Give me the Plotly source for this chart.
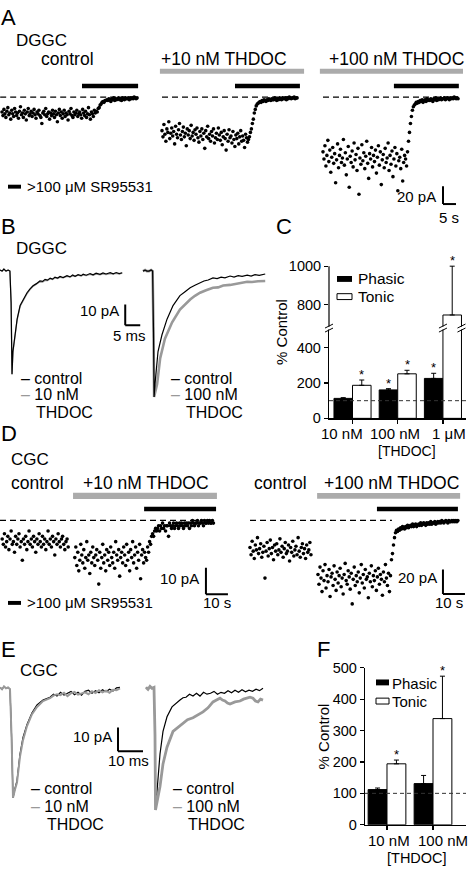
import numpy as np
import plotly.graph_objects as go

W, H = 468, 874
FONT = "Liberation Sans, Arial, Helvetica, sans-serif"
GRAY_BAR = "#ababab"
GRAY_TRACE = "#999999"

# ============================ DATA ============================
# ---- Panel A: DGGC holding current (pA, relative to SR95531 level), sampled over 52 s
A_duration_s = 52
A_control = [
    -17, -21, -14, -19, -23, -16, -12, -20, -18, -25,
    -15, -19, -22, -13, -17, -21, -18, -24, -16, -11,
    -20, -18, -23, -15, -19, -26, -17, -13, -21, -19,
    -16, -22, -18, -14, -20, -24, -17, -19, -15, -21,
    -23, -30, -18, -16, -20, -13, -22, -19, -17, -25,
    -18, -21, -15, -19, -23, -16, -20, -28, -18, -14,
    -21, -17, -24, -19, -15, -22, -18, -20, -26, -16,
    -19, -13, -21, -23, -17, -20, -18, -15, -22, -19,
    -17, -20, -24, -14, -18, -21, -16, -23, -19, -12,
    -20, -25, -17, -19, -22, -15,
    -18, -16, -17, -13, -12, -9, -8, -6, -5, -6, -4, -4,
    -3, -4, -2, -3, -5, -2, -3, -1, -4, -2, -3, -2, -1, -3, -2, -4,
    -1, -2, -3, -1, -2, -2, -1, -3, -1, -2, -1, -2, 0, -1, -2, -1]
A_thdoc10 = [
    -38, -45, -31, -42, -50, -36, -40, -28, -47, -41,
    -35, -44, -39, -53, -33, -42, -46, -37, -30, -43,
    -48, -39, -34, -45, -41, -55, -36, -43, -38, -47,
    -32, -44, -40, -49, -37, -42, -35, -46, -51, -39,
    -44, -36, -48, -41, -58, -38, -45, -33, -47, -42,
    -50, -39, -44, -36, -52, -46, -41, -48, -35, -43,
    -49, -40, -54, -45, -38, -47, -60, -42, -50, -37,
    -46, -44, -52, -39, -48, -56, -43, -47, -41, -53,
    -45, -38, -50, -44, -49, -57, -42, -46, -51,
    -48, -45, -40, -36, -30, -25, -18, -14, -10, -8,
    -7, -6, -5, -6, -4, -5, -3, -4, -5, -3, -4, -2, -3, -4, -2, -3, -3, -1, -2, -4,
    -2, -3, -1, -2, -3, -1, -2, -2, -1, -3, -1, -2, 0, -1, -2, -1, -1, 0, -2, -1, -1]
A_thdoc100 = [
    -62, -70, -55, -78, -66, -49, -73, -60, -85, -68,
    -57, -75, -64, -97, -71, -53, -80, -66, -59, -74,
    -69, -48, -77, -63, -88, -70, -56, -102, -67, -74,
    -61, -79, -52, -71, -65, -83, -58, -110, -69, -76,
    -54, -72, -63, -81, -67, -50, -75, -92, -64, -70,
    -57, -79, -66, -73, -60, -86, -68, -55, -77, -62,
    -99, -71, -65, -80, -58, -74, -69, -52, -83, -66,
    -76, -61, -90, -70, -57, -78, -64, -106, -72, -68,
    -81, -59, -95, -74, -66,
    -70, -78, -62, -50, -40, -30, -22, -15, -11, -9, -8, -6,
    -7, -5, -6, -4, -5, -3, -6, -4, -3, -5, -2, -4, -3, -4, -2, -3, -5, -2, -3, -1,
    -4, -2, -3, -2, -1, -3, -2, -2, -1, -3, -2, -1, -2, -3, -1, -2, -1, -2, 0, -1,
    -2, -1, -2]

# ---- Panel D: CGC holding current (pA), time windows in s
D1_control_t = (1, 31)
D1_control = [
    -7, -9, -5, -10, -8, -6, -11, -7, -4, -9,
    -8, -12, -6, -9, -7, -5, -10, -8, -15, -7,
    -9, -6, -11, -8, -4, -9, -7, -10, -6, -8,
    -12, -7, -9, -5, -8, -10, -6, -9, -7, -11,
    -8, -4, -9, -7, -10, -6, -8, -13, -7, -9,
    -5, -8, -10, -7, -6, -9, -11, -8, -7, -10]
D1_thdoc_t = (34, 97)
D1_thdoc10 = [
    -14, -10, -17, -12, -19, -15, -9, -13, -16, -11,
    -18, -14, -8, -15, -13, -20, -12, -16, -10, -14,
    -17, -13, -11, -15, -24, -12, -18, -14, -9, -16,
    -13, -19, -11, -15, -12, -17, -10, -14, -16, -12,
    -18, -8, -13, -15, -11, -21, -14, -12, -16, -10,
    -13, -17, -9, -15, -12, -19, -11, -14, -8, -16,
    -13, -10, -18, -12, -15, -9, -22, -13, -11, -16,
    -12, -14,
    -15, -10, -12, -8, -9, -6, -5, -6, -4, -3, -4,
    -3, -2, -4, -2, -3, -1, -3, -2, -4, -2,
    -2, -6, -1, -2, -3, -2, -1, -3, -2, -1,
    -2, -3, -1, -2, -1, -2, -3, -1, -2, -1,
    -2, -1, -3, -1, -2, 0, -1, -2, -1, -1,
    0, -2, -1, -1, 0, -1, -2, 0, -1, -1,
    0, -1, 0, -1, -1, 0, -1]
D2_control_t = (0, 27.7)
D2_control = [
    -22, -28, -17, -25, -31, -20, -24, -14, -27, -23,
    -19, -30, -26, -21, -47, -25, -18, -29, -23, -16,
    -27, -22, -32, -20, -25, -19, -28, -24, -15, -26,
    -21, -30, -23, -18, -27, -25, -20, -33, -22, -26,
    -17, -29, -24, -21, -28, -14, -25, -30, -22, -19,
    -27, -23, -31, -20, -26, -24, -18, -28]
D2_thdoc_t = (30.9, 94.5)
D2_thdoc100 = [
    -44, -52, -38, -47, -58, -41, -49, -36, -55, -45,
    -50, -40, -62, -46, -43, -53, -37, -48, -57, -42,
    -51, -45, -39, -54, -47, -60, -44, -35, -49, -52,
    -41, -46, -56, -43, -68, -48, -38, -53, -45, -50,
    -42, -59, -47, -36, -51, -44, -55, -40, -48, -46,
    -63, -43, -50, -37, -54, -45, -49, -41, -57, -46,
    -39, -52, -44, -48, -61, -42, -50, -36, -47, -53,
    -43, -58, -45,
    -32, -27, -20, -14, -10, -8,
    -9, -7, -8, -6, -7, -5, -6, -7, -5, -6,
    -4, -6, -5, -4, -5, -3, -5, -4, -3, -5,
    -4, -3, -4, -2, -4, -3, -2, -3, -4, -2,
    -3, -2, -3, -1, -3, -2, -2, -1, -3, -2,
    -1, -2, -1, -2, 0, -1, -2, -1, 0, -1,
    -2, 0, -1, -1, 0, -1, 0, -1, 0, -1,
    0]

# ---- Panel B: DGGC averaged mIPSCs (time ms, current pA)
B1_t = [0, 0.7, 1.3, 2.0, 2.7, 3.3, 3.7, 3.8, 4.0, 4.3, 5.0, 5.7, 6.7, 7.7, 9.0, 10.0, 11.0, 12.0,
        13.3, 14.2, 15.0, 15.8, 16.7, 17.5, 18.3, 19.2, 20.0, 21.0, 22.3, 23.3, 24.2, 25.0, 26.0,
        27.0, 27.7, 28.7, 30.0, 31.0, 32.0, 33.3, 34.3, 35.3, 36.7, 37.7, 38.7, 39.7, 40.7]
B1_control = [0.5, 0, 1.0, 0, 0.5, 0, -15.2, -36.7, -50.0, -39.0, -29.5, -23.3, -16.7, -13.8, -10.5, -8.6, -7.1, -6.2,
              -4.8, -5.0, -4.0, -4.4, -3.4, -3.9, -2.9, -3.4, -2.6, -3.1, -2.2, -2.8, -1.9, -2.5, -1.7,
              -2.2, -1.5, -2.0, -1.2, -1.8, -1.0, -1.6, -0.9, -1.4, -0.8, -1.3, -0.7, -1.2, -0.8]
B1_thdoc10 = [0.5, 0, 1.0, 0, 0.5, 0, -15.2, -36.7, -50.0, -39.5, -30.0, -23.8, -17.1, -14.3, -11.0, -9.0, -7.4, -6.5,
              -5.2, -5.3, -4.5, -4.6, -3.8, -4.1, -3.3, -3.6, -3.0, -3.3, -2.6, -2.9, -2.3, -2.6, -2.0,
              -2.4, -1.9, -2.2, -1.6, -2.0, -1.5, -1.8, -1.3, -1.7, -1.2, -1.5, -1.1, -1.4, -1.0]
B2_control_t = [0, 0.7, 1.3, 2.0, 2.7, 3.2, 3.5, 3.7, 4.0, 5.0, 6.3, 8.0, 10.0, 12.3, 14.0, 15.7, 17.3, 19.0,
                20.3, 21.7, 23.3, 24.7, 26.0, 27.3, 29.0, 30.3, 31.7, 33.0, 34.7, 36.0, 37.3, 38.7, 40.7]
B2_control = [0, 0.5, 0, 0, 0.5, 0, -29.5, -61.0, -54.7, -39.0, -31.0, -23.3, -16.7, -11.9, -10.0, -8.1, -6.9, -5.7,
              -4.8, -4.3, -3.3, -3.6, -2.9, -3.3, -2.4, -2.9, -2.2, -2.6, -2.0, -2.4, -1.7, -2.1, -1.4]
B2_thdoc_t = [0, 0.7, 1.3, 2.0, 2.7, 3.2, 3.5, 3.7, 4.7, 5.7, 7.3, 9.7, 12.3, 14.0, 15.7, 17.3, 19.0, 21.0,
              23.3, 25.0, 26.7, 29.0, 30.7, 32.3, 34.7, 36.3, 38.3, 40.7]
B2_thdoc100 = [0, 0.5, 0, 0, 0.5, 0, -29.5, -61.0, -54.7, -42.4, -32.8, -24.8, -18.6, -16.0, -13.8, -12.0, -10.5, -9.3,
               -8.1, -7.9, -7.0, -6.7, -6.2, -5.9, -5.2, -5.3, -4.9, -4.8]

# ---- Panel E: CGC averaged mIPSCs (time ms, current pA)
E1_t = [0, 0.8, 1.6, 2.4, 3.2, 4.0, 4.6, 5.2, 6.0, 6.8, 8.0, 9.2, 10.8, 12.8, 14.8, 17.2,
        20.0, 21.4, 22.8, 24.2, 25.6, 27.0, 28.4, 29.8, 31.2, 32.6, 34.0, 35.4, 36.8, 38.2, 39.6,
        41.0, 42.4, 43.8, 45.2, 46.6, 48.0]
E1_control = [0.4, -0.4, 0.8, 0, 0.4, -0.4, -19.6, -46.5, -42.5, -39.2, -27.9, -20.9, -15.4, -10.4, -7.1, -5.0,
              -3.8, -2.5, -3.3, -1.7, -2.9, -2.1, -1.3, -2.7, -1.7, -2.9, -1.3, -0.8, -2.1, -1.0, -1.9,
              -0.6, -1.5, -0.4, -1.2, 0.2, 0.4]
E1_thdoc10 = [0.4, -0.4, 0.8, 0, 0.4, -0.4, -19.6, -46.5, -43.0, -40.0, -29.0, -22.0, -16.0, -11.0, -7.9, -5.4,
              -4.2, -3.1, -2.5, -2.9, -1.9, -3.3, -2.1, -1.5, -2.7, -2.3, -1.7, -2.5, -1.2, -2.0, -0.8,
              -1.7, -1.0, -1.9, -0.6, -0.8, 0]
E2_control_t = [0, 0.8, 1.6, 2.4, 3.2, 3.6, 3.8, 4.8, 5.6, 6.8, 8.4, 10.4, 12.0, 13.6, 14.8, 16.0, 17.4, 18.8,
                20.2, 21.6, 23.0, 24.4, 25.8, 27.2, 28.6, 30.0, 31.4, 32.8, 34.2, 35.6, 37.0, 38.4, 39.8,
                41.2, 42.6, 44.0, 45.4, 46.8]
E2_control = [0.4, -0.4, 0.8, 0, 0.4, -20.0, -51.7, -39.2, -27.9, -18.3, -12.1, -7.9, -6.3, -5.0, -4.0, -3.8, -2.5, -3.3,
              -2.1, -3.3, -1.7, -2.5, -2.1, -1.3, -2.5, -1.7, -2.1, -1.0, -1.9, -0.8, -1.7, -0.6, -1.5,
              -0.8, -1.3, -0.4, -1.0, 0]
E2_thdoc_t = [0, 0.8, 1.6, 2.4, 3.2, 3.6, 3.8, 5.6, 6.8, 8.4, 10.8, 12.6, 14.4, 16.6, 18.8, 20.8, 22.8, 24.8,
              26.8, 28.2, 29.6, 30.6, 31.6, 32.6, 33.6, 35.6, 37.6, 39.0, 40.4, 41.6, 42.8, 43.8, 44.8, 45.8, 46.8]
E2_thdoc100 = [0.4, -0.4, 0.8, 0, 0.4, -20.0, -51.7, -41.7, -32.1, -25.0, -18.3, -16.7, -15.4, -13.3, -12.5, -11.3, -10.0, -8.3,
               -5.8, -5.0, -4.2, -5.0, -5.4, -6.3, -6.7, -5.8, -5.4, -4.6, -4.2, -3.8, -4.2, -5.4, -5.8, -4.6, -5.0]

# ---- Panel C: DGGC, % control
C_conc = ["10 nM", "100 nM", "1 \u03bcM"]
C_phasic = [113, 161, 226]
C_phasic_err = [4, 7, 29]
C_tonic = [187, 252, 745]
C_tonic_err = [30, 20, 255]
C_phasic_sig = [False, True, True]
C_tonic_sig = [True, True, True]
C_yticks_low = [0, 200, 400]
C_yticks_high = [800, 1000]

# ---- Panel F: CGC, % control
F_conc = ["10 nM", "100 nM"]
F_phasic = [112, 131]
F_phasic_err = [5, 26]
F_tonic = [194, 338]
F_tonic_err = [12, 135]
F_phasic_sig = [False, False]
F_tonic_sig = [True, True]
F_yticks = [0, 100, 200, 300, 400, 500]

# ============================ FIGURE ============================
fig = go.Figure()


def dots(x, y, xa, ya, size=3.6):
    fig.add_trace(go.Scatter(x=x, y=y, mode="markers",
                             marker=dict(size=size, color="black", line=dict(width=0)),
                             xaxis=xa, yaxis=ya, showlegend=False, hoverinfo="skip"))


def curve(x, y, xa, ya, color, width):
    fig.add_trace(go.Scatter(x=x, y=y, mode="lines", line=dict(color=color, width=width),
                             xaxis=xa, yaxis=ya, showlegend=False, hoverinfo="skip"))


# A
dots(np.linspace(0, A_duration_s, len(A_control)), A_control, "x", "y")
dots(np.linspace(0, A_duration_s, len(A_thdoc10)), A_thdoc10, "x2", "y")
dots(np.linspace(0, A_duration_s, len(A_thdoc100)), A_thdoc100, "x3", "y")
# D
dots(np.linspace(*D1_control_t, len(D1_control)), D1_control, "x8", "y8")
dots(np.linspace(*D1_thdoc_t, len(D1_thdoc10)), D1_thdoc10, "x8", "y8")
dots(np.linspace(*D2_control_t, len(D2_control)), D2_control, "x9", "y9")
dots(np.linspace(*D2_thdoc_t, len(D2_thdoc100)), D2_thdoc100, "x9", "y9")
# B
curve(B1_t, B1_thdoc10, "x4", "y4", GRAY_TRACE, 1.3)
curve(B1_t, B1_control, "x4", "y4", "black", 1.2)
curve(B2_thdoc_t, B2_thdoc100, "x5", "y4", GRAY_TRACE, 2.6)
curve(B2_control_t, B2_control, "x5", "y4", "black", 1.2)
# E
curve(E1_t, E1_control, "x10", "y10", "black", 1.2)
curve(E1_t, E1_thdoc10, "x10", "y10", GRAY_TRACE, 2.0)
curve(E2_control_t, E2_control, "x11", "y10", "black", 1.2)
curve(E2_thdoc_t, E2_thdoc100, "x11", "y10", GRAY_TRACE, 2.8)

BW = 0.41


def bars(cats, phasic, perr, tonic, terr, xa, ya):
    z = [0] * len(cats)
    eb = dict(type="data", symmetric=False, arrayminus=z, color="black", thickness=1, width=2.5)
    fig.add_trace(go.Bar(x=cats, y=phasic, width=BW, offset=-BW,
                         marker=dict(color="black", line=dict(color="black", width=1)),
                         error_y=dict(eb, array=perr), xaxis=xa, yaxis=ya, showlegend=False, hoverinfo="skip"))
    fig.add_trace(go.Bar(x=cats, y=tonic, width=BW, offset=0,
                         marker=dict(color="white", line=dict(color="black", width=1)),
                         error_y=dict(eb, array=terr), xaxis=xa, yaxis=ya, showlegend=False, hoverinfo="skip"))


bars(C_conc, C_phasic, C_phasic_err, C_tonic, C_tonic_err, "x6", "y6")
bars(C_conc, C_phasic, C_phasic_err, C_tonic, C_tonic_err, "x6", "y7")
bars(F_conc, F_phasic, F_phasic_err, F_tonic, F_tonic_err, "x12", "y12")


# ---- axes (pixel layout -> domains/ranges)
def xax(p0, p1, origin, per_px, anchor):
    return dict(domain=[p0 / W, p1 / W], range=[(p0 - origin) * per_px, (p1 - origin) * per_px],
                visible=False, anchor=anchor, fixedrange=True)


def yax(p0, p1, origin, per_px, anchor):
    return dict(domain=[1 - p1 / H, 1 - p0 / H], range=[(origin - p1) * per_px, (origin - p0) * per_px],
                visible=False, anchor=anchor, fixedrange=True)


AX = dict(showline=True, linecolor="black", linewidth=1.2, ticks="outside", ticklen=4, tickwidth=1.2,
          tickcolor="black", showgrid=False, zeroline=False, fixedrange=True,
          tickfont=dict(size=14.5, family=FONT, color="black"))

layout_axes = dict(
    xaxis=xax(0, 145, 2, 0.385, "y"),
    xaxis2=xax(155, 310, 162, 0.385, "y"),
    xaxis3=xax(315, 468, 323, 0.385, "y"),
    yaxis=yax(55, 220, 90.7, 1.11, "x"),
    xaxis4=xax(0, 141, 0, 0.333, "y4"),
    xaxis5=xax(141, 275, 143, 0.333, "y4"),
    yaxis4=yax(255, 425, 268, 0.476, "x4"),
    xaxis6=dict(AX, domain=[329 / W, 466 / W], range=[-0.52, 2.51], type="category", anchor="y6",
                showticklabels=False),
    yaxis6=dict(AX, domain=[1 - 418 / H, 1 - 325 / H], range=[0, 516.7], tickvals=C_yticks_low, anchor="x6"),
    yaxis7=dict(AX, domain=[1 - 325 / H, 1 - 258 / H], range=[682, 1025.6], tickvals=C_yticks_high,
                anchor="x6", showline=False),
    xaxis8=xax(0, 240, 0, 0.4545, "y8"),
    yaxis8=yax(488, 625, 522, 0.37, "x8"),
    xaxis9=xax(245, 468, 250, 0.4545, "y9"),
    yaxis9=yax(488, 625, 522, 0.8, "x9"),
    xaxis10=xax(0, 145, 0, 0.4, "y10"),
    xaxis11=xax(145, 275, 146, 0.4, "y10"),
    yaxis10=yax(670, 845, 693, 0.417, "x10"),
    xaxis12=dict(AX, domain=[365 / W, 466 / W], range=[-0.478, 1.717], type="category", anchor="y12",
                 showticklabels=False),
    yaxis12=dict(AX, domain=[1 - 832 / H, 1 - 672 / H], range=[0, 500], tickvals=F_yticks, anchor="x12"),
)

shapes = []


def rect(xref, yref, x0, x1, y0, y1, fill, lw=0, lc="black"):
    shapes.append(dict(type="rect", xref=xref, yref=yref, x0=x0, x1=x1, y0=y0, y1=y1,
                       fillcolor=fill, line=dict(width=lw, color=lc), layer="above"))


def seg(xref, yref, x0, x1, y0, y1, w=1.3, dash="solid", color="black"):
    shapes.append(dict(type="line", xref=xref, yref=yref, x0=x0, x1=x1, y0=y0, y1=y1,
                       line=dict(width=w, color=color, dash=dash), layer="above"))


def scalebar(xref, yref, t, i, dt, di):
    seg(xref, yref, t, t, i, i - di, w=2)
    seg(xref, yref, t, t + dt, i - di, i - di, w=2)


# A decorations: THDOC (gray) and SR95531 (black) applications, baseline at SR level
for xr, (t0, t1) in {"x2": (-0.8, 54.7), "x3": (-1.2, 53.9)}.items():
    rect(xr, "y", t0, t1, 26.3, 31.9, GRAY_BAR)
for xr, (t0, t1) in {"x": (30.8, 52.4), "x2": (28.1, 53.1), "x3": (27.3, 52.3)}.items():
    rect(xr, "y", t0, t1, 9.9, 15.0, "black")
for xr, (t0, t1) in {"x": (-0.7, 52), "x2": (0, 50.4), "x3": (0, 52)}.items():
    seg(xr, "y", t0, t1, 0, 0, w=1.3, dash="6px,4px")
scalebar("x3", "y", 46.2, -101, 5, 20)

# B
scalebar("x4", "y4", 41.7, -16.2, 5, 10)
# E
scalebar("x10", "y10", 47.2, -16.7, 10, 10)

# D decorations
rect("x8", "y8", 33.2, 98.6, 8.1, 10.4, GRAY_BAR)
rect("x8", "y8", 65.5, 98.2, 3.5, 5.2, "black")
seg("x8", "y8", 0, 96.8, 0, 0, w=1.3, dash="6px,4px")
scalebar("x8", "y8", 93.6, -17.8, 10, 10)
rect("x9", "y9", 30.5, 95.5, 17.6, 22.4, GRAY_BAR)
rect("x9", "y9", 57.7, 94.5, 7.4, 11.2, "black")
seg("x9", "y9", 0, 64.5, 0, 0, w=1.3, dash="6px,4px")
scalebar("x9", "y9", 87.7, -40, 10, 20)

# 100% reference lines
shapes.append(dict(type="line", xref="x6 domain", yref="y6", x0=0, x1=1, y0=100, y1=100,
                   line=dict(width=1, color="#333333", dash="4px,3px"), layer="above"))
shapes.append(dict(type="line", xref="x12 domain", yref="y12", x0=0, x1=1, y0=100, y1=100,
                   line=dict(width=1, color="#333333", dash="4px,3px"), layer="above"))
# upper segment axis line of C
shapes.append(dict(type="line", xref="paper", yref="y7", x0=329 / W, x1=329 / W, y0=682, y1=1000,
                   line=dict(width=1.2, color="black"), layer="above"))


# axis break marks
def brk(xref, xanchor):
    yan = 1 - 325 / H
    shapes.append(dict(type="rect", xref=xref, xsizemode="pixel", xanchor=xanchor, x0=-2.5, x1=2.5,
                       yref="paper", ysizemode="pixel", yanchor=yan, y0=-2.5, y1=0.5,
                       fillcolor="white", line=dict(width=0), layer="above"))
    for off in (-4, 0):
        shapes.append(dict(type="line", xref=xref, xsizemode="pixel", xanchor=xanchor, x0=-4, x1=4,
                           yref="paper", ysizemode="pixel", yanchor=yan, y0=off - 1, y1=off + 3,
                           line=dict(width=1, color="black"), layer="above"))


brk("paper", 329 / W)
brk("x6", 2.0)
brk("x6", 2.0 + BW)


# legend keys and SR keys (paper pixels)
def prect(x0, y0, x1, y1, fill, lw=0):
    shapes.append(dict(type="rect", xref="paper", yref="paper", x0=x0 / W, x1=x1 / W,
                       y0=1 - y1 / H, y1=1 - y0 / H, fillcolor=fill,
                       line=dict(width=lw, color="black"), layer="above"))


prect(337, 273, 352, 279, "black")
prect(337, 291, 352, 297, "white", 1)
prect(376, 684, 389, 690, "black")
prect(376, 703, 389, 709, "white", 1)
prect(8, 180, 21, 184, "black")
prect(8, 604, 21, 608, "black")

# ---- text
ann = []


def txt(s, x, y, size=16, anchor="left", angle=0):
    ann.append(dict(text=s, x=x / W, y=1 - y / H, xref="paper", yref="paper", xanchor=anchor,
                    yanchor="middle", showarrow=False, textangle=angle,
                    font=dict(size=size, family=FONT, color="black")))


K = "<span style='color:black'>\u2013</span>"
G = "<span style='color:#999999'>\u2013</span>"
LS = 17.5
txt("A", -1, 10, 22)
txt("DGGC", 14, 33, 17)
txt("control", 39, 52, LS)
txt("+10 nM THDOC", 159, 52, LS)
txt("+100 nM THDOC", 327, 52, LS)
txt(">100 \u03bcM SR95531", 25, 182, 15)
txt("20 pA", 438, 192, 15, "right")
txt("5 s", 449, 213, 15, "center")
txt("B", -1, 223, 22)
txt("DGGC", 14, 245, 17)
txt("C", 274, 223, 22)
txt("10 pA", 121, 308, 15, "right")
txt("5 ms", 129, 334, 15, "center")
txt(K + " control", 19, 377, 16)
txt(G + " 10 nM", 19, 394, 16)
txt("THDOC", 34, 412, 16)
txt(K + " control", 169, 377, 16)
txt(G + " 100 nM", 169, 394, 16)
txt("THDOC", 184, 412, 16)
txt("% Control", 282, 330, 15, "center", -90)
# C category labels
for lab, cx in zip(C_conc, [342, 395, 449]):
    txt(lab, cx, 433, 15, "center")
txt("[THDOC]", 407, 451, 14, "center")
txt("Phasic", 356, 276, 15.5)
txt("Tonic", 356, 294, 15.5)
txt("D", -1, 433, 22)
txt("CGC", 9, 460, 17)
txt("control", 9, 484, LS)
txt("+10 nM THDOC", 81, 484, LS)
txt("control", 252, 484, LS)
txt("+100 nM THDOC", 322, 484, LS)
txt("10 pA", 201, 581, 15, "right")
txt("10 s", 217, 606, 15, "center")
txt("20 pA", 439, 580, 15, "right")
txt("10 s", 449, 606, 15, "center")
txt(">100 \u03bcM SR95531", 25, 606, 15)
txt("E", -1, 653, 22)
txt("CGC", 18, 675, 17)
txt("10 pA", 114, 742, 15, "right")
txt("10 ms", 128, 767, 15, "center")
txt(K + " control", 29, 795, 16)
txt(G + " 10 nM", 29, 813, 16)
txt("THDOC", 45, 832, 16)
txt(K + " control", 171, 795, 16)
txt(G + " 100 nM", 171, 813, 16)
txt("THDOC", 186, 832, 16)
txt("F", 315, 653, 22)
txt("% Control", 323, 742, 15, "center", -90)
# F category labels
for lab, cx in zip(F_conc, [389, 443]):
    txt(lab, cx, 848, 15, "center")
txt("[THDOC]", 417, 866, 14.5, "center")
txt("Phasic", 390, 688, 15)
txt("Tonic", 390, 706, 15)


# significance asterisks
def stars(vals, errs, sig, offset, xa, ya_fn):
    for i, (v, e, s) in enumerate(zip(vals, errs, sig)):
        if s:
            top = v + e
            ann.append(dict(text="*", x=i + offset, y=top, xref=xa, yref=ya_fn(top),
                            xanchor="center", yanchor="bottom", yshift=-4, showarrow=False,
                            font=dict(size=13, family=FONT, color="black")))


stars(C_phasic, C_phasic_err, C_phasic_sig, -BW / 2, "x6", lambda v: "y7" if v > 500 else "y6")
stars(C_tonic, C_tonic_err, C_tonic_sig, BW / 2, "x6", lambda v: "y7" if v > 500 else "y6")
stars(F_phasic, F_phasic_err, F_phasic_sig, -BW / 2, "x12", lambda v: "y12")
stars(F_tonic, F_tonic_err, F_tonic_sig, BW / 2, "x12", lambda v: "y12")

fig.update_layout(
    width=W, height=H, autosize=False,
    margin=dict(l=0, r=0, t=0, b=0, pad=0),
    paper_bgcolor="white", plot_bgcolor="rgba(0,0,0,0)",
    font=dict(family=FONT, color="black", size=14),
    barmode="overlay", showlegend=False,
    shapes=shapes, annotations=ann,
    **layout_axes,
)

fig.write_html("out.html", include_plotlyjs=True, full_html=True,
               config={"displayModeBar": False, "staticPlot": True},
               post_script="document.body.style.margin='0';")
